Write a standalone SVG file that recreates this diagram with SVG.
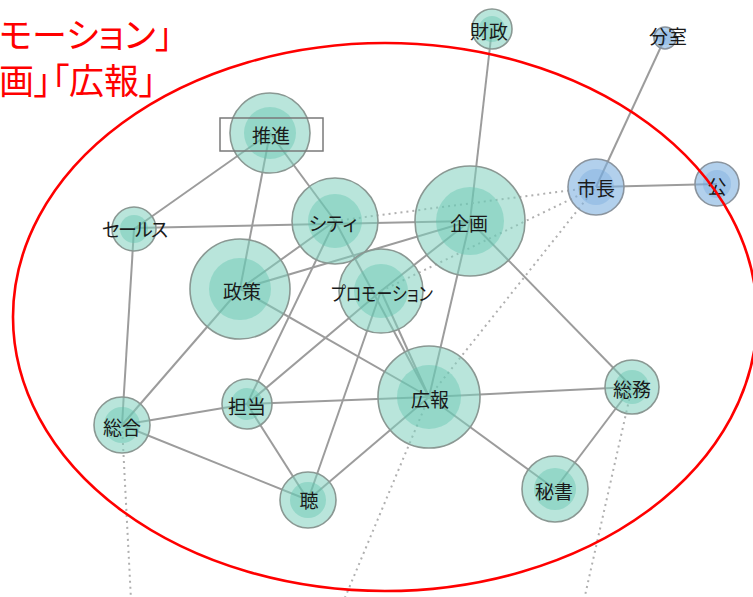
<svg xmlns="http://www.w3.org/2000/svg" width="753" height="597" viewBox="0 0 753 597">
<style>
.e{stroke:#9c9c9c;stroke-width:2;fill:none}
.d{stroke:#b0b0b0;stroke-width:2;fill:none;stroke-dasharray:2 4}
.o{fill:#7fd0bd;fill-opacity:.55;stroke:#8a9893;stroke-width:1.6}
.i{fill:#5cc4ad;fill-opacity:.4}
.ob{fill:#7fb0e0;fill-opacity:.6;stroke:#8a949e;stroke-width:1.6}
.ib{fill:#6fa6dc;fill-opacity:.35}
.t{font-family:"Noto Sans CJK JP","Noto Sans",sans-serif;font-size:19px;fill:#1a1a1a;text-anchor:middle;dominant-baseline:central;font-feature-settings:"palt" 1}
.r{font-family:"Noto Sans CJK JP","Noto Sans",sans-serif;font-size:35px;fill:#ff0000;font-feature-settings:"palt" 1}
</style>
<rect width="753" height="597" fill="#fff"/>
<g id="connectors">
<line class="e" x1="270" y1="133" x2="134" y2="229"/>
<line class="e" x1="270" y1="133" x2="240" y2="289"/>
<line class="e" x1="270" y1="133" x2="335" y2="221"/>
<line class="e" x1="134" y1="228" x2="470" y2="221"/>
<line class="e" x1="134" y1="229" x2="122" y2="425"/>
<line class="e" x1="335" y1="221" x2="240" y2="289"/>
<line class="e" x1="335" y1="221" x2="247" y2="404"/>
<line class="e" x1="335" y1="221" x2="429" y2="397"/>
<line class="e" x1="240" y1="289" x2="470" y2="221"/>
<line class="e" x1="240" y1="289" x2="122" y2="425"/>
<line class="e" x1="240" y1="289" x2="429" y2="397"/>
<line class="e" x1="381" y1="291" x2="470" y2="221"/>
<line class="e" x1="381" y1="291" x2="247" y2="404"/>
<line class="e" x1="381" y1="291" x2="308" y2="500"/>
<line class="e" x1="381" y1="291" x2="429" y2="397"/>
<line class="e" x1="470" y1="221" x2="492" y2="29"/>
<line class="e" x1="470" y1="221" x2="429" y2="397"/>
<line class="e" x1="470" y1="221" x2="632" y2="387"/>
<line class="e" x1="596" y1="187" x2="665" y2="38"/>
<line class="e" x1="596" y1="187" x2="717" y2="184"/>
<line class="e" x1="429" y1="397" x2="247" y2="404"/>
<line class="e" x1="429" y1="397" x2="632" y2="387"/>
<line class="e" x1="429" y1="397" x2="555" y2="489"/>
<line class="e" x1="429" y1="397" x2="308" y2="500"/>
<line class="e" x1="632" y1="387" x2="555" y2="489"/>
<line class="e" x1="122" y1="425" x2="247" y2="404"/>
<line class="e" x1="122" y1="425" x2="308" y2="500"/>
<line class="e" x1="247" y1="404" x2="308" y2="500"/>
<line class="d" x1="335" y1="221" x2="596" y2="187"/>
<line class="d" x1="381" y1="291" x2="596" y2="187"/>
<line class="d" x1="429" y1="397" x2="596" y2="187"/>
<line class="d" x1="429" y1="397" x2="344" y2="600"/>
<line class="d" x1="122" y1="425" x2="131" y2="600"/>
<line class="d" x1="632" y1="387" x2="584" y2="600"/>
</g>
<g id="n-suishin"><circle class="o" cx="270" cy="133" r="40"/><circle class="i" cx="270" cy="133" r="26"/><text class="t" x="271" y="134">推進</text></g>
<g id="n-sales"><circle class="o" cx="134" cy="229" r="22"/><circle class="i" cx="134" cy="229" r="14"/><text class="t" x="135" y="228" textLength="66">セールス</text></g>
<g id="n-city"><circle class="o" cx="335" cy="221" r="43"/><circle class="i" cx="335" cy="221" r="27"/><text class="t" x="333" y="222">シティ</text></g>
<g id="n-seisaku"><circle class="o" cx="240" cy="289" r="50"/><circle class="i" cx="240" cy="289" r="31"/><text class="t" x="242" y="290">政策</text></g>
<g id="n-promotion"><circle class="o" cx="381" cy="291" r="42"/><circle class="i" cx="381" cy="291" r="27"/><text class="t" x="382" y="292" textLength="102" lengthAdjust="spacingAndGlyphs">プロモーション</text></g>
<g id="n-kikaku"><circle class="o" cx="470" cy="221" r="55"/><circle class="i" cx="470" cy="221" r="34"/><text class="t" x="469" y="222">企画</text></g>
<g id="n-zaisei"><circle class="o" cx="492" cy="29" r="20"/><circle class="i" cx="492" cy="29" r="13"/><text class="t" x="489" y="30">財政</text></g>
<g id="n-bunshitsu"><circle class="ob" cx="665" cy="38" r="11"/><circle class="ib" cx="665" cy="38" r="7"/><text class="t" x="668" y="35">分室</text></g>
<g id="n-shicho"><circle class="ob" cx="596" cy="187" r="28"/><circle class="ib" cx="596" cy="187" r="18"/><text class="t" x="596" y="187">市長</text></g>
<g id="n-ko"><circle class="ob" cx="717" cy="184" r="22"/><circle class="ib" cx="717" cy="184" r="14"/><text class="t" x="717" y="185">公</text></g>
<g id="n-koho"><circle class="o" cx="429" cy="397" r="51"/><circle class="i" cx="429" cy="397" r="32"/><text class="t" x="430" y="398">広報</text></g>
<g id="n-somu"><circle class="o" cx="632" cy="387" r="27"/><circle class="i" cx="632" cy="387" r="17"/><text class="t" x="632" y="388">総務</text></g>
<g id="n-hisho"><circle class="o" cx="555" cy="489" r="33"/><circle class="i" cx="555" cy="489" r="21"/><text class="t" x="554" y="490">秘書</text></g>
<g id="n-tanto"><circle class="o" cx="247" cy="404" r="25"/><circle class="i" cx="247" cy="404" r="16"/><text class="t" x="247" y="405">担当</text></g>
<g id="n-sogo"><circle class="o" cx="122" cy="425" r="28"/><circle class="i" cx="122" cy="425" r="18"/><text class="t" x="122" y="426">総合</text></g>
<g id="n-cho"><circle class="o" cx="308" cy="500" r="28"/><circle class="i" cx="308" cy="500" r="18"/><text class="t" x="309" y="499">聴</text></g>
<rect x="220" y="118" width="103" height="33" fill="none" stroke="#7a7a7a" stroke-width="1.5"/>
<ellipse cx="385" cy="317" rx="372" ry="274" fill="none" stroke="#ff0000" stroke-width="2.6"/>
<text class="r" x="-1" y="48">モーション」</text>
<text class="r" x="-1" y="94">画」「広報」</text>
</svg>
